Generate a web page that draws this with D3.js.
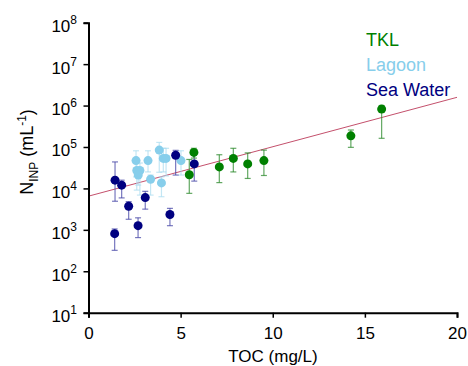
<!DOCTYPE html>
<html>
<head>
<meta charset="utf-8">
<script src="https://cdn.jsdelivr.net/npm/d3@7"></script>
<style>
  body { margin: 0; background: #fff; }
  text { font-family: "Liberation Sans", Arial, sans-serif; }
</style>
</head>
<body>
<div id="chart"></div>
<script>
// ---------------- DATA ----------------
// TOC in mg/L, N_INP in mL^-1, error bars as low / high values
var tklToc  = [5.72, 5.47, 7.10, 7.86, 8.64, 9.52, 14.24, 15.91];
var tklN    = [74000, 21400, 33000, 53000, 39000, 47000, 186000, 822000];
var tklLo   = [54000, 7600, 13800, 25000, 17400, 20500, 98000, 162000];
var tklHi   = [93000, 50000, 65000, 93000, 72000, 84000, 257000, 1000000];

var lagToc  = [2.58, 2.62, 2.79, 2.70, 3.23, 3.84, 4.06, 4.21, 3.37, 3.96, 5.02];
var lagN    = [47000, 27000, 27000, 21000, 47000, 84000, 53000, 53000, 16600, 13600, 47000];
var lagLo   = [19000, 9100, 6900, 12000, 25000, 24500, 25000, 20000, 6900, 6300, 21000];
var lagHi   = [81000, 48000, 41000, 31000, 81000, 129000, 93000, 93000, 21000, 19000, 81000];

var seaToc  = [1.44, 1.80, 2.18, 1.42, 2.69, 3.08, 4.42, 4.73, 5.74];
var seaN    = [15800, 12000, 3700, 810, 1260, 6000, 2350, 63000, 39000];
var seaLo   = [4900, 5900, 1800, 320, 650, 3160, 1260, 21000, 15000];
var seaHi   = [43600, 15800, 4800, 1050, 1950, 8500, 3300, 83000, 76000];

// fitted line end points
var fitToc = [0, 20];
var fitN   = [6500, 1580000];

var xTicks = [0, 5, 10, 15, 20];
var yTicks = [1, 2, 3, 4, 5, 6, 7, 8];   // exponents of 10

var seriesNames = ["TKL", "Lagoon", "Sea Water"];

// ---------------- SVG ----------------
var width = 468, height = 366;

var svg = d3.select("#chart")
    .append("svg")
    .attr("width", width)
    .attr("height", height);

var x = d3.scaleLinear().domain([0, 20]).range([88.5, 457]);
var y = d3.scaleLog().domain([10, 1e8]).range([312.7, 22.7]);

function build(toc, n, lo, hi) {
    return toc.map(function (d, i) {
        return { toc: d, n: n[i], lo: lo[i], hi: hi[i] };
    });
}

var series = [
    { name: seriesNames[0], color: "#008000", bar: "#2e8b2e", barOpacity: 0.75, data: build(tklToc, tklN, tklLo, tklHi) },
    { name: seriesNames[1], color: "#87ceeb", bar: "#a9dcf0", barOpacity: 0.7, data: build(lagToc, lagN, lagLo, lagHi) },
    { name: seriesNames[2], color: "#000080", bar: "#4a4aa8", barOpacity: 0.75, data: build(seaToc, seaN, seaLo, seaHi) }
];

// ---------------- FIT LINE ----------------
svg.append("path")
    .datum(fitToc.map(function (d, i) { return [d, fitN[i]]; }))
    .attr("fill", "none")
    .attr("stroke", "#c4506c")
    .attr("stroke-width", 1)
    .attr("d", d3.line()
        .x(function (d) { return x(d[0]); })
        .y(function (d) { return y(d[1]); }));

// ---------------- ERROR BARS + POINTS ----------------
// draw order: lagoon, sea water, tkl
var drawOrder = [series[1], series[2], series[0]];
drawOrder.forEach(function (s) {
    var g = svg.append("g");
    var bars = g.selectAll(".err")
        .data(s.data)
        .enter().append("g")
        .attr("stroke", s.bar)
        .attr("stroke-opacity", s.barOpacity)
        .attr("stroke-width", 1.2);
    bars.append("line")
        .attr("x1", function (d) { return x(d.toc); })
        .attr("x2", function (d) { return x(d.toc); })
        .attr("y1", function (d) { return y(d.lo); })
        .attr("y2", function (d) { return y(d.hi); });
    bars.append("line")
        .attr("x1", function (d) { return x(d.toc) - 3; })
        .attr("x2", function (d) { return x(d.toc) + 3; })
        .attr("y1", function (d) { return y(d.lo); })
        .attr("y2", function (d) { return y(d.lo); });
    bars.append("line")
        .attr("x1", function (d) { return x(d.toc) - 3; })
        .attr("x2", function (d) { return x(d.toc) + 3; })
        .attr("y1", function (d) { return y(d.hi); })
        .attr("y2", function (d) { return y(d.hi); });

    g.selectAll("circle")
        .data(s.data)
        .enter().append("circle")
        .attr("cx", function (d) { return x(d.toc); })
        .attr("cy", function (d) { return y(d.n); })
        .attr("r", 4.5)
        .style("fill", s.color);
});

// ---------------- AXES ----------------
var xAxis = svg.append("g")
    .attr("transform", "translate(0," + y(10) + ")")
    .call(d3.axisBottom(x).tickValues(xTicks).tickSize(5).tickFormat(d3.format("d")));

var yAxis = svg.append("g")
    .attr("transform", "translate(" + x(0) + ",0)")
    .call(d3.axisLeft(y).tickValues(yTicks.map(function (e) { return Math.pow(10, e); })).tickSize(5).tickFormat(""));

svg.selectAll(".domain").attr("stroke", "#000").attr("stroke-width", 2);
svg.selectAll(".tick line").attr("stroke", "#000").attr("stroke-width", 1.5);

xAxis.selectAll("text")
    .attr("font-size", 17)
    .attr("font-family", "Liberation Sans, Arial, sans-serif")
    .attr("fill", "#000")
    .attr("dy", "1.08em");

// powers of ten labels
var yLab = svg.append("g");
yTicks.forEach(function (e) {
    var t = yLab.append("text")
        .attr("x", 77)
        .attr("y", y(Math.pow(10, e)) + 9.5)
        .attr("text-anchor", "end")
        .attr("font-size", 17)
        .text("10");
    t.append("tspan")
        .attr("dy", -8)
        .attr("font-size", 12)
        .text(e);
});

// axis titles
svg.append("text")
    .attr("x", 273)
    .attr("y", 362)
    .attr("text-anchor", "middle")
    .attr("font-size", 17)
    .text("TOC (mg/L)");

var yt = svg.append("text")
    .attr("transform", "translate(33,152) rotate(-90)")
    .attr("text-anchor", "middle")
    .attr("font-size", 18);
yt.append("tspan").text("N");
yt.append("tspan").attr("font-size", 12).attr("dy", 5).text("INP");
yt.append("tspan").attr("dy", -5).text(" (mL");
yt.append("tspan").attr("font-size", 12).attr("dy", -7).text("-1");
yt.append("tspan").attr("dy", 7).text(")");

// ---------------- LEGEND ----------------
svg.selectAll(".legend")
    .data(series)
    .enter().append("text")
    .attr("class", "legend")
    .attr("x", 366)
    .attr("y", function (d, i) { return 46 + i * 25; })
    .attr("font-size", 18)
    .style("fill", function (d) { return d.color; })
    .text(function (d) { return d.name; });
</script>
</body>
</html>
